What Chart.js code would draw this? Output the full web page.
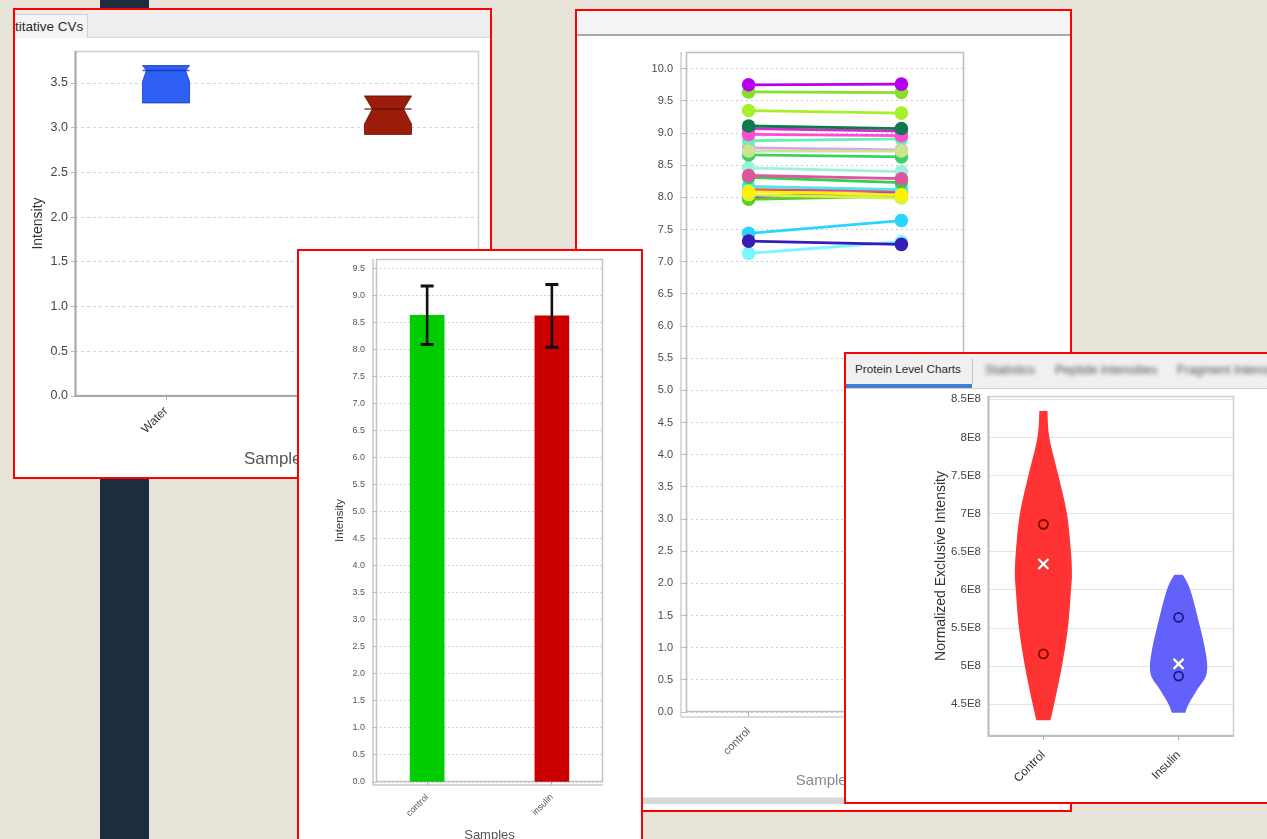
<!DOCTYPE html>
<html>
<head>
<meta charset="utf-8">
<script src="https://cdn.jsdelivr.net/npm/chart.js@4.4.1/dist/chart.umd.min.js"></script>
<style>
  html, body { margin: 0; padding: 0; }
  body {
    width: 1267px; height: 839px; overflow: hidden; position: relative;
    background: #E9E4DA; font-family: "Liberation Sans", Arial, sans-serif;
  }
  .stripe { position: absolute; left: 100px; top: 0; width: 49px; height: 839px; background: #1C2D3F; }
  .panel { position: absolute; box-sizing: border-box; border: 2px solid #FF0000; background: #FFFFFF; overflow: hidden; }
  .panel > * { position: absolute; }
  .tabtext { white-space: nowrap; font-size: 12.5px; color: #2A2A2A; }
  .ghost { white-space: nowrap; font-size: 12.5px; color: #505050; filter: blur(2.2px); top: 6px; line-height: 20px; }
</style>
</head>
<body>
<div class="stripe"></div>

<!-- CV box plot window -->
<div class="panel" style="left:13px;top:8px;width:479px;height:471px;z-index:1">
  <div style="left:0;top:0;width:475px;height:27px;background:#EEEEEE;border-bottom:1px solid #D8D8D8"></div>
  <div class="tabtext" style="left:0;top:4px;width:72px;height:23px;line-height:23px;font-size:13.5px;background:#F4F4F4;border-right:1px solid #D2D2D2;border-top:1px solid #D2D2D2;padding-left:0">titative CVs</div>
  <canvas id="cvChart" width="475" height="439" style="left:0;top:28px;filter:blur(0.3px)"></canvas>
</div>

<!-- Paired protein intensities window -->
<div class="panel" style="left:575px;top:9px;width:497px;height:803px;z-index:2">
  <div style="left:0;top:0;width:493px;height:23px;background:#F4F4F4;border-bottom:2px solid #A9A9A9"></div>
  <canvas id="pairChart" width="493" height="761" style="left:0;top:25px;filter:blur(0.5px)"></canvas>
  <div style="left:0;top:786px;width:493px;height:6px;background:#D6D6D6;border-top:1px solid #E8E8E8"></div>
</div>

<!-- Mean intensity bar window -->
<div class="panel" style="left:297px;top:249px;width:346px;height:620px;z-index:3">
  <canvas id="barChart" width="342" height="600" style="left:0;top:0;filter:blur(0.6px)"></canvas>
</div>

<!-- Protein level violin window -->
<div class="panel" style="left:844px;top:352px;width:440px;height:452px;z-index:4">
  <div style="left:0;top:0;width:440px;height:34px;background:#F0F0F0;border-bottom:1px solid #D0D0D0"></div>
  <div class="tabtext" style="left:9px;top:5px;line-height:20px;font-size:11.7px">Protein Level Charts</div>
  <div style="left:0;top:30px;width:126px;height:4px;background:#3F7FCF"></div>
  <div style="left:126px;top:4px;width:1px;height:26px;background:#C8C8C8"></div>
  <div class="ghost" style="left:139px">Statistics</div>
  <div class="ghost" style="left:209px">Peptide Intensities</div>
  <div class="ghost" style="left:331px">Fragment Intensities</div>
  <canvas id="violinChart" width="421" height="413" style="left:0;top:35px;filter:blur(0.35px)"></canvas>
</div>

<script>
// ---------- CV box plot ----------
const cvCategories = ['Water', 'Insulin'];
const cvQ1 = [3.277, 2.925];
const cvQ3 = [3.695, 3.356];
const cvMedian = [3.64, 3.21];
const cvNotchLow = [3.516, 3.043];
const cvYTicks = [0, 0.5, 1.0, 1.5, 2.0, 2.5, 3.0, 3.5];

// ---------- mean intensity bars ----------
const barSamples = ['control', 'insulin'];
const barMeans = [8.63, 8.62];
const barErrors = [0.54, 0.58];
const barYTicks = [0, 0.5, 1.0, 1.5, 2.0, 2.5, 3.0, 3.5, 4.0, 4.5, 5.0, 5.5, 6.0, 6.5, 7.0, 7.5, 8.0, 8.5, 9.0, 9.5];

// ---------- paired protein intensities ----------
const pairSamples = ['control', 'insulin'];
const pairControl = [8.09, 8.72, 7.32, 9.11, 9.75, 8.34, 7.44, 9.35, 9.64, 8.98, 8.88, 8.77, 8.66, 8.46, 8.31, 8.17, 8.12, 8.04, 7.97, 8.01, 9.07, 7.13];
const pairInsulin = [8.04, 8.72, 7.27, 9.07, 9.76, 8.29, 7.64, 9.31, 9.63, 8.96, 8.91, 8.74, 8.63, 8.40, 8.23, 8.12, 8.10, 7.99, 8.02, 8.07, 9.03, 7.31];
const pairYTicks = [0, 0.5, 1.0, 1.5, 2.0, 2.5, 3.0, 3.5, 4.0, 4.5, 5.0, 5.5, 6.0, 6.5, 7.0, 7.5, 8.0, 8.5, 9.0, 9.5, 10.0];

// ---------- protein level violins ----------
const violinGroups = ['Control', 'Insulin'];
const controlLevels = [8.346e8, 8.0e8, 7.5e8, 7.0e8, 6.5e8, 6.2e8, 6.0e8, 5.5e8, 5.0e8, 4.5e8, 4.29e8];
const controlDensity = [0.030, 0.044, 0.111, 0.174, 0.204, 0.211, 0.204, 0.181, 0.137, 0.079, 0.052];
const insulinLevels = [6.20e8, 6.0e8, 5.5e8, 5.2e8, 5.0e8, 4.85e8, 4.7e8, 4.5e8, 4.39e8];
const insulinDensity = [0.031, 0.087, 0.161, 0.198, 0.212, 0.198, 0.141, 0.074, 0.050];
const controlReplicates = [6.86e8, 5.16e8];
const insulinReplicates = [5.64e8, 4.87e8];
const groupMeans = [6.34e8, 5.03e8];
const violinYTicks = [4.5e8, 5.0e8, 5.5e8, 6.0e8, 6.5e8, 7.0e8, 7.5e8, 8.0e8, 8.5e8];

// ---------- styles ----------
const boxColors = ['#2E60F6', '#9C1C0A'];
const boxMedianColors = ['rgba(20,45,170,0.75)', 'rgba(85,10,4,0.75)'];
const barColors = ['#00CC00', '#CC0000'];
const pairPalette = ['#FFF200', '#C9E68F', '#3B1BB5', '#0D7A4E', '#B800F0', '#E0559E', '#2BD3FF', '#A5F02A',
  '#86E02A', '#FF4AD8', '#66F0B6', '#D9A0EE', '#3CCF6A', '#9AF3DA', '#2BD14F', '#4FE4F2',
  '#E3526A', '#D4F245', '#5BCF22', '#A040E0', '#D82AC8', '#7CF6FF'];
const violinFill = ['#FF3333', '#6262FA'];
const violinMarks = ['#7A0000', '#1A1A8C'];

Chart.defaults.font.family = '"Liberation Sans", Arial, sans-serif';
Chart.defaults.animation = false;
Chart.defaults.responsive = false;
Chart.defaults.devicePixelRatio = 1;
Chart.defaults.plugins.legend.display = false;
Chart.defaults.plugins.tooltip.enabled = false;

// Fixed axis sizes so each plot rectangle lands where the window layout expects it.
const fitWidth = w => s => { s.width = w; s.paddingTop = 0; s.paddingBottom = 0; };
const fitHeight = h => s => { s.height = h; s.paddingLeft = 0; s.paddingRight = 0; };
const useTicks = values => s => { s.ticks = values.map(v => ({ value: v })); };
const categoryTicks = n => s => { s.ticks = Array.from({ length: n }, (_, i) => ({ value: i })); };
const plotBox = (w, h, left, top, right, bottom) => ({
  layout: { padding: { left: 0, top: top, right: w - right, bottom: 0 } },
  yWidth: left, xHeight: h - bottom
});

// Plot rectangle outline plus the detached axis lines of the desktop charts.
const plotFrame = {
  id: 'plotFrame',
  beforeDatasetsDraw(chart, args, o) {
    const { ctx, chartArea: a } = chart;
    ctx.save();
    ctx.lineWidth = o.width || 1;
    ctx.strokeStyle = o.color || '#C8C8C8';
    ctx.strokeRect(a.left + 0.5, a.top + 0.5, a.right - a.left - 1, a.bottom - a.top - 1);
    if (o.leftColor) {
      ctx.strokeStyle = o.leftColor;
      ctx.lineWidth = o.leftWidth || 1.5;
      ctx.beginPath();
      ctx.moveTo(a.left + 0.5, a.top); ctx.lineTo(a.left + 0.5, a.bottom);
      ctx.lineTo(a.right, a.bottom);
      ctx.stroke();
    }
    if (o.axisOffset) {
      const off = o.axisOffset;
      ctx.strokeStyle = o.axisColor || '#BBBBBB';
      ctx.lineWidth = 1.5;
      ctx.beginPath();
      ctx.moveTo(a.left - off, a.top); ctx.lineTo(a.left - off, a.bottom + off);
      ctx.moveTo(a.left - off, a.bottom + off); ctx.lineTo(a.right, a.bottom + off);
      ctx.stroke();
    }
    ctx.restore();
  }
};
Chart.register(plotFrame);

function categoryAxis(labels, height, font, color, padding, title) {
  return {
    type: 'linear', min: -0.41, max: 1.41, offset: false,
    afterBuildTicks: categoryTicks(labels.length),
    afterFit: fitHeight(height),
    ticks: { callback: v => labels[Math.round(v)], minRotation: 45, maxRotation: 45, font: font, color: color, padding: padding, autoSkip: false },
    grid: { drawOnChartArea: false, offset: false, tickLength: 4, color: '#AAAAAA' },
    border: { display: false },
    title: title
  };
}

// ---------- CV box plot ----------
const notchedBoxes = {
  id: 'notchedBoxes',
  afterDatasetsDraw(chart) {
    const { ctx, scales: { x, y } } = chart;
    const half = (x.getPixelForValue(1) - x.getPixelForValue(0)) * 0.106;
    cvCategories.forEach((name, i) => {
      const cx = x.getPixelForValue(i);
      const top = y.getPixelForValue(cvQ3[i]);
      const bottom = y.getPixelForValue(cvQ1[i]);
      const med = y.getPixelForValue(cvMedian[i]);
      const low = y.getPixelForValue(cvNotchLow[i]);
      const depth = 9 * Math.min(1, (cvQ3[i] - cvMedian[i]) / (cvMedian[i] - cvNotchLow[i]));
      const L = cx - half, R = cx + half;
      ctx.save();
      ctx.beginPath();
      ctx.moveTo(L, top);
      ctx.lineTo(L + depth, med);
      ctx.lineTo(L, low);
      ctx.lineTo(L, bottom);
      ctx.lineTo(R, bottom);
      ctx.lineTo(R, low);
      ctx.lineTo(R - depth, med);
      ctx.lineTo(R, top);
      ctx.closePath();
      ctx.fillStyle = boxColors[i];
      ctx.fill();
      ctx.lineWidth = 1;
      ctx.strokeStyle = boxMedianColors[i];
      ctx.stroke();
      ctx.lineWidth = 1.6;
      ctx.beginPath();
      ctx.moveTo(L, med); ctx.lineTo(R, med);
      ctx.stroke();
      ctx.restore();
    });
  }
};

const cvBox = plotBox(475, 439, 60, 13, 464, 358);
new Chart(document.getElementById('cvChart'), {
  type: 'scatter',
  data: { datasets: [{ data: cvCategories.map((c, i) => ({ x: i, y: cvMedian[i] })), pointRadius: 0 }] },
  options: {
    layout: cvBox.layout,
    scales: {
      x: categoryAxis(cvCategories, cvBox.xHeight, { size: 12 }, '#333333', 4,
        { display: true, text: 'Samples', font: { size: 17 }, color: '#555555', padding: { top: 0, bottom: 7 } }),
      y: {
        min: 0, max: 3.858,
        afterBuildTicks: useTicks(cvYTicks), afterFit: fitWidth(cvBox.yWidth),
        ticks: { callback: v => v.toFixed(1), font: { size: 12.5 }, color: '#444444', padding: 3 },
        grid: { color: '#D2D2D2', tickLength: 4, tickColor: '#BBBBBB' },
        border: { display: false, dash: [3, 3] },
        title: { display: true, text: 'Intensity', font: { size: 14 }, color: '#333333', padding: { top: 15, bottom: 0 } }
      }
    },
    plugins: { plotFrame: { color: '#CFCFCF', width: 1.5, leftColor: '#A8A8A8', leftWidth: 2 } }
  },
  plugins: [notchedBoxes]
});

// ---------- mean intensity bars ----------
const errorBars = {
  id: 'errorBars',
  afterDatasetsDraw(chart) {
    const { ctx, scales: { x, y } } = chart;
    barSamples.forEach((s, i) => {
      const cx = x.getPixelForValue(i);
      const hi = y.getPixelForValue(barMeans[i] + barErrors[i]);
      const lo = y.getPixelForValue(barMeans[i] - barErrors[i]);
      ctx.save();
      ctx.strokeStyle = '#111111';
      ctx.lineWidth = 2.6;
      ctx.beginPath();
      ctx.moveTo(cx, hi); ctx.lineTo(cx, lo);
      ctx.stroke();
      ctx.lineWidth = 3;
      ctx.beginPath();
      ctx.moveTo(cx - 6.5, hi); ctx.lineTo(cx + 6.5, hi);
      ctx.moveTo(cx - 6.5, lo); ctx.lineTo(cx + 6.5, lo);
      ctx.stroke();
      ctx.restore();
    });
  }
};

const barBox = plotBox(342, 600, 77, 8, 304, 531);
new Chart(document.getElementById('barChart'), {
  type: 'bar',
  data: {
    datasets: [{
      data: barSamples.map((s, i) => ({ x: i, y: barMeans[i] })),
      backgroundColor: barColors,
      barThickness: 34
    }]
  },
  options: {
    layout: barBox.layout,
    scales: {
      x: categoryAxis(barSamples, barBox.xHeight, { size: 9 }, '#555555', 6,
        { display: true, text: 'Samples', font: { size: 13 }, color: '#555555', padding: { top: 0, bottom: 8 } }),
      y: {
        min: 0, max: 9.67,
        afterBuildTicks: useTicks(barYTicks), afterFit: fitWidth(barBox.yWidth),
        ticks: { callback: v => v.toFixed(1), font: { size: 9 }, color: '#555555', padding: 7 },
        grid: { color: '#D6D6D6', tickLength: 4, tickColor: '#BBBBBB' },
        border: { display: false, dash: [2, 2] },
        title: { display: true, text: 'Intensity', font: { size: 11.5 }, color: '#444444', padding: { top: 34, bottom: 0 } }
      }
    },
    plugins: { plotFrame: { color: '#C4C4C4', width: 1.5, axisOffset: 3, axisColor: '#C8C8C8' } }
  },
  plugins: [errorBars]
});

// ---------- paired protein intensities ----------
const pairBox = plotBox(493, 761, 109, 16, 387, 676);
new Chart(document.getElementById('pairChart'), {
  type: 'line',
  data: {
    datasets: pairControl.map((c, i) => ({
      data: [{ x: 0, y: c }, { x: 1, y: pairInsulin[i] }],
      borderColor: pairPalette[i],
      backgroundColor: pairPalette[i],
      borderWidth: 2.8,
      pointRadius: 6.8,
      pointBorderWidth: 0,
      tension: 0
    }))
  },
  options: {
    layout: pairBox.layout,
    scales: {
      x: categoryAxis(pairSamples, pairBox.xHeight, { size: 11 }, '#555555', 9,
        { display: true, text: 'Samples', font: { size: 15 }, color: '#8A8A8A', padding: { top: 0, bottom: 7 } }),
      y: {
        min: 0, max: 10.26,
        afterBuildTicks: useTicks(pairYTicks), afterFit: fitWidth(pairBox.yWidth),
        ticks: { callback: v => v.toFixed(1), font: { size: 11 }, color: '#4A4A4A', padding: 7 },
        grid: { color: '#CDCDCD', tickLength: 6, tickColor: '#BBBBBB' },
        border: { display: false, dash: [2, 3] },
        title: { display: false }
      }
    },
    plugins: { plotFrame: { color: '#BDBDBD', width: 1.5, axisOffset: 5, axisColor: '#CFCFCF' } }
  }
});

// ---------- protein level violins ----------
function smoothThrough(ctx, pts) {
  for (let i = 0; i < pts.length - 1; i++) {
    const p0 = pts[i - 1] || pts[i], p1 = pts[i], p2 = pts[i + 1], p3 = pts[i + 2] || pts[i + 1];
    const t = 1 / 6;
    ctx.bezierCurveTo(p1.x + (p2.x - p0.x) * t, p1.y + (p2.y - p0.y) * t,
                      p2.x - (p3.x - p1.x) * t, p2.y - (p3.y - p1.y) * t, p2.x, p2.y);
  }
}

const violins = {
  id: 'violins',
  afterDatasetsDraw(chart) {
    const { ctx, scales: { x, y } } = chart;
    const profiles = [[controlLevels, controlDensity], [insulinLevels, insulinDensity]];
    const replicates = [controlReplicates, insulinReplicates];
    const unit = x.getPixelForValue(1) - x.getPixelForValue(0);
    violinGroups.forEach((g, i) => {
      const cx = x.getPixelForValue(i);
      const [levels, widths] = profiles[i];
      const right = levels.map((v, k) => ({ x: cx + widths[k] * unit, y: y.getPixelForValue(v) }));
      const left = levels.map((v, k) => ({ x: cx - widths[k] * unit, y: y.getPixelForValue(v) })).reverse();
      ctx.save();
      ctx.beginPath();
      ctx.moveTo(left[left.length - 1].x, left[left.length - 1].y);
      ctx.lineTo(right[0].x, right[0].y);
      smoothThrough(ctx, right);
      ctx.lineTo(left[0].x, left[0].y);
      smoothThrough(ctx, left);
      ctx.closePath();
      ctx.fillStyle = violinFill[i];
      ctx.fill();

      ctx.strokeStyle = violinMarks[i];
      ctx.lineWidth = 1.8;
      replicates[i].forEach(v => {
        ctx.beginPath();
        ctx.arc(cx, y.getPixelForValue(v), 4.5, 0, Math.PI * 2);
        ctx.stroke();
      });

      const my = y.getPixelForValue(groupMeans[i]);
      const s = 5;
      [[3.6, 'rgba(110,110,110,0.55)'], [2.2, '#FFFFFF']].forEach(([w, c]) => {
        ctx.strokeStyle = c;
        ctx.lineWidth = w;
        ctx.beginPath();
        ctx.moveTo(cx - s, my - s); ctx.lineTo(cx + s, my + s);
        ctx.moveTo(cx + s, my - s); ctx.lineTo(cx - s, my + s);
        ctx.stroke();
      });
      ctx.restore();
    });
  }
};

const violinBox = plotBox(421, 413, 142, 7, 388, 347);
new Chart(document.getElementById('violinChart'), {
  type: 'scatter',
  data: { datasets: [{ data: violinGroups.map((g, i) => ({ x: i, y: groupMeans[i] })), pointRadius: 0 }] },
  options: {
    layout: violinBox.layout,
    scales: {
      x: categoryAxis(violinGroups, violinBox.xHeight, { size: 12 }, '#333333', 8, { display: false }),
      y: {
        min: 4.084e8, max: 8.543e8,
        afterBuildTicks: useTicks(violinYTicks), afterFit: fitWidth(violinBox.yWidth),
        ticks: { callback: v => (v / 1e8) + 'E8', font: { size: 11.5 }, color: '#444444', padding: 7 },
        grid: { color: '#E4E4E4', drawTicks: false },
        border: { display: false },
        title: { display: true, text: 'Normalized Exclusive Intensity', font: { size: 14 }, color: '#333333', padding: { top: 87, bottom: 0 } }
      }
    },
    plugins: { plotFrame: { color: '#CFCFCF', width: 1.5, leftColor: '#BDBDBD', leftWidth: 2 } }
  },
  plugins: [violins]
});
</script>
</body>
</html>
